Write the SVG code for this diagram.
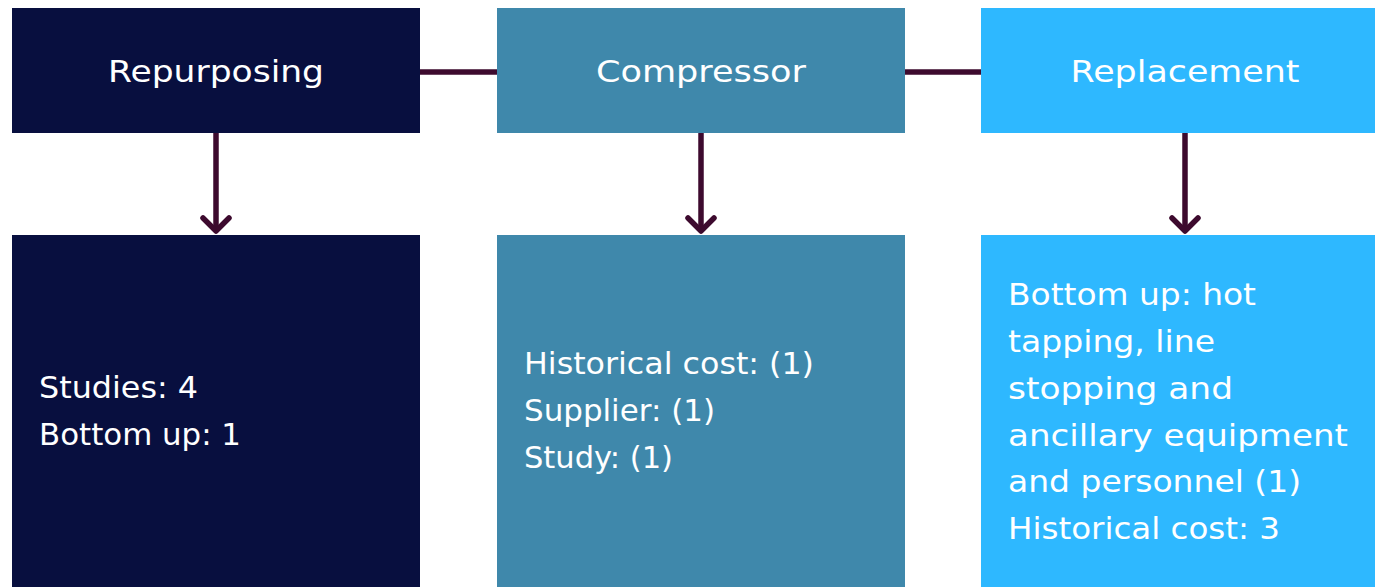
<svg xmlns="http://www.w3.org/2000/svg" width="1375" height="587" viewBox="0 0 1375 587">
<style>
.t{font-family:"DejaVu Sans","Open Sans",sans-serif;font-size:30px;fill:#fff;text-anchor:middle}
.b{font-family:"DejaVu Sans","Open Sans",sans-serif;font-size:30px;fill:#fff}
.c{stroke:#3d0a2e;stroke-width:5.5;fill:none;stroke-linecap:round;stroke-linejoin:round}
.h{stroke:#3d0a2e;stroke-width:5.5;fill:none}
.navy{fill:#080f3f}.teal{fill:#3f88ab}.sky{fill:#2eb8ff}
</style>
<rect width="1375" height="587" fill="#fff"/>
<g id="connectors">
<line class="h" x1="420" y1="72" x2="497" y2="72"/>
<line class="h" x1="905" y1="72" x2="981" y2="72"/>
<path class="h" d="M216,133 V230"/><path class="c" d="M203,218 L216,231 L229,218"/>
<path class="h" d="M701,133 V230"/><path class="c" d="M688,218 L701,231 L714,218"/>
<path class="h" d="M1185,133 V230"/><path class="c" d="M1172,218 L1185,231 L1198,218"/>
</g>
<g id="repurposing"><rect class="navy" x="12" y="8" width="408" height="125"/><text class="t" x="216" y="82" textLength="216" lengthAdjust="spacingAndGlyphs">Repurposing</text></g>
<g id="compressor"><rect class="teal" x="497" y="8" width="408" height="125"/><text class="t" x="701" y="82" textLength="210" lengthAdjust="spacingAndGlyphs">Compressor</text></g>
<g id="replacement"><rect class="sky" x="981" y="8" width="408" height="125"/><text class="t" x="1185" y="82" textLength="229" lengthAdjust="spacingAndGlyphs">Replacement</text></g>
<g id="repurposing-detail"><rect class="navy" x="12" y="235" width="408" height="360"/>
<text class="b" x="39" y="398" textLength="159" lengthAdjust="spacingAndGlyphs">Studies: 4</text>
<text class="b" x="39" y="445" textLength="202" lengthAdjust="spacingAndGlyphs">Bottom up: 1</text></g>
<g id="compressor-detail"><rect class="teal" x="497" y="235" width="408" height="360"/>
<text class="b" x="524" y="374" textLength="290" lengthAdjust="spacingAndGlyphs">Historical cost: (1)</text>
<text class="b" x="524" y="421" textLength="191" lengthAdjust="spacingAndGlyphs">Supplier: (1)</text>
<text class="b" x="524" y="468" textLength="149" lengthAdjust="spacingAndGlyphs">Study: (1)</text></g>
<g id="replacement-detail"><rect class="sky" x="981" y="235" width="408" height="360"/>
<text class="b" x="1008" y="305" textLength="248" lengthAdjust="spacingAndGlyphs">Bottom up: hot</text>
<text class="b" x="1008" y="352" textLength="207" lengthAdjust="spacingAndGlyphs">tapping, line</text>
<text class="b" x="1008" y="399" textLength="225" lengthAdjust="spacingAndGlyphs">stopping and</text>
<text class="b" x="1008" y="446" textLength="340" lengthAdjust="spacingAndGlyphs">ancillary equipment</text>
<text class="b" x="1008" y="492" textLength="293" lengthAdjust="spacingAndGlyphs">and personnel (1)</text>
<text class="b" x="1008" y="539" textLength="272" lengthAdjust="spacingAndGlyphs">Historical cost: 3</text></g>
</svg>
